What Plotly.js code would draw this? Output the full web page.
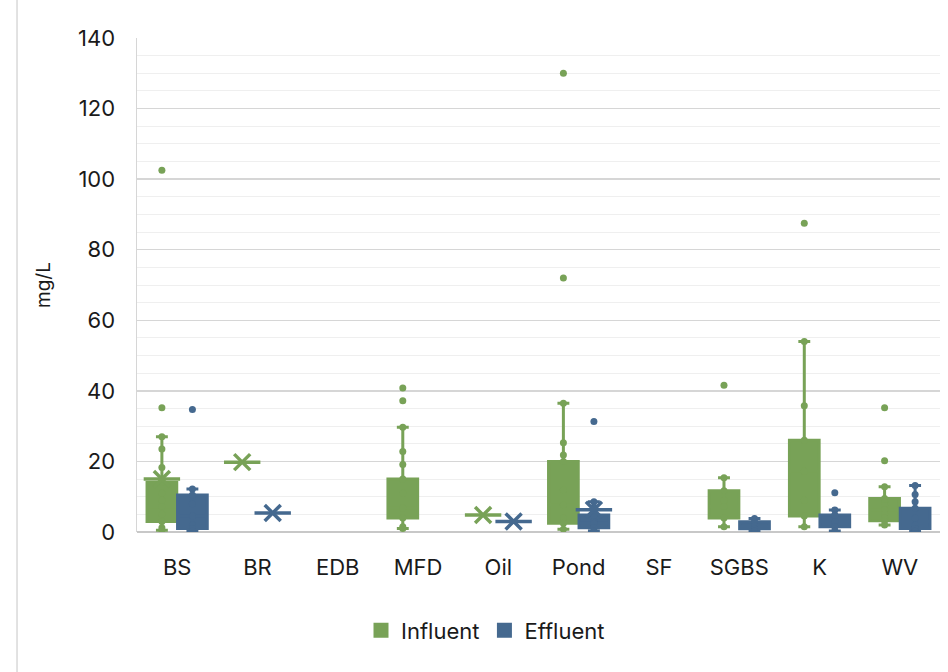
<!DOCTYPE html>
<html>
<head>
<meta charset="utf-8">
<script src="https://cdn.plot.ly/plotly-3.0.1.min.js"></script>
<style>html,body{margin:0;padding:0;background:#fff;}#chart{width:948px;height:672px;}</style>
</head>
<body>
<div id="chart"></div>
<script>
// ---- Data ----
var categories = ["BS", "BR", "EDB", "MFD", "Oil", "Pond", "SF", "SGBS", "K", "WV"];

// Influent box statistics (null = no box)
var infQ1     = [3,    null, null, 4,    null, 2.5,  null, 4,    4.5,  3.2];
var infMedian = [7,    null, null, 6.8,  null, 7.7,  null, 7.2,  17.2, 6.2];
var infQ3     = [14,   null, null, 15,   null, 20,   null, 11.7, 26,   9.5];
var infLower  = [0.5,  null, null, 1,    null, 0.8,  null, 1.5,  1.5,  2];
var infUpper  = [27,   null, null, 29.7, null, 36.5, null, 15.4, 54,   12.8];
var infMean   = [15,   19.8, null, null, 4.8,  null, null, null, null, null];
var infPoints = [
  [102.5, 35.2, 27, 23.5, 18.3, 14, 11, 9, 7.2, 5, 3, 1.2, 0.5],
  [],
  [],
  [40.8, 37.2, 29.7, 22.8, 19.1, 15, 11, 6.8, 4, 1.5, 1],
  [],
  [130, 72, 36.5, 25.3, 21.8, 20, 12, 7.7, 4, 2.5, 0.8],
  [],
  [41.6, 15.4, 11.7, 9, 7.2, 4, 1.5],
  [87.5, 54, 35.8, 26, 17.2, 9, 4.5, 1.5],
  [35.2, 20.2, 12.8, 9.5, 8.5, 7.5, 6.2, 5, 4, 3.2, 2]
];

// Effluent box statistics
var effQ1     = [1,    null, null, null, null, 1.2,  null, 0.9,  1.5,  1];
var effMedian = [4.5,  null, null, null, null, 2.5,  null, 1.8,  3,    3];
var effQ3     = [10.5, null, null, null, null, 4.8,  null, 2.9,  4.8,  6.7];
var effLower  = [0.2,  null, null, null, null, 0.3,  null, 0.2,  0.3,  0.2];
var effUpper  = [12.2, null, null, null, null, 8.6,  null, 3.8,  6.2,  13.2];
var effMean   = [null, 5.4,  null, null, 3,    6.3,  null, null, null, null];
var effPoints = [
  [34.7, 12.2, 10.5, 8, 4.5, 2, 1, 0.2],
  [],
  [],
  [],
  [],
  [31.3, 8.6, 7, 5.5, 4.8, 3, 2.5, 1.2, 0.3],
  [],
  [3.8, 2.9, 1.8, 0.9, 0.2],
  [11.1, 6.2, 4.8, 3, 1.5, 0.3],
  [13.2, 10.6, 8.6, 6.7, 4, 2, 1, 0.2]
];

var yTicks = [0, 20, 40, 60, 80, 100, 120, 140];

// ---- Style ----
var GREEN = "#78A257";
var BLUE = "#45698F";
var FONT = "Inter, 'Open Sans', sans-serif";
var TXT = "#1a1a1a";
var OFF = 0.19, BOXW = 0.37;

function boxTrace(name, color, off, q1, med, q3, lo, hi, showLegend) {
  var t = {type: "box", name: name, legendgroup: name, showlegend: showLegend,
    x: [], q1: [], median: [], q3: [], lowerfence: [], upperfence: [],
    width: BOXW, whiskerwidth: 0.4, boxpoints: false,
    fillcolor: color, line: {color: color, width: 3}, hoverinfo: "skip"};
  for (var i = 0; i < categories.length; i++) {
    if (q1[i] === null) continue;
    t.x.push(i + off); t.q1.push(q1[i]); t.median.push(med[i]); t.q3.push(q3[i]);
    t.lowerfence.push(lo[i]); t.upperfence.push(hi[i]);
  }
  return t;
}
function pointTrace(name, color, off, pts) {
  var xs = [], ys = [];
  for (var i = 0; i < pts.length; i++) {
    for (var j = 0; j < pts[i].length; j++) { xs.push(i + off); ys.push(pts[i][j]); }
  }
  return {type: "scatter", mode: "markers", x: xs, y: ys, showlegend: false, legendgroup: name,
    marker: {color: color, size: 7}, hoverinfo: "y"};
}
function meanTraces(name, color, off, means) {
  var xs = [], ys = [];
  for (var i = 0; i < means.length; i++) {
    if (means[i] === null) continue;
    xs.push(i + off); ys.push(means[i]);
  }
  return [
    {type: "scatter", mode: "markers", x: xs, y: ys, showlegend: false, legendgroup: name,
      marker: {symbol: "x-thin-open", color: color, size: 16, line: {color: color, width: 3.5}}, hoverinfo: "y"},
    {type: "scatter", mode: "markers", x: xs, y: ys, showlegend: false, legendgroup: name,
      marker: {symbol: "line-ew-open", color: color, size: 26, line: {color: color, width: 3.5}}, hoverinfo: "skip"}
  ];
}

var data = [
  boxTrace("Influent", GREEN, -OFF, infQ1, infMedian, infQ3, infLower, infUpper, true),
  boxTrace("Effluent", BLUE, OFF, effQ1, effMedian, effQ3, effLower, effUpper, true),
  pointTrace("Influent", GREEN, -OFF, infPoints),
  pointTrace("Effluent", BLUE, OFF, effPoints)
].concat(meanTraces("Influent", GREEN, -OFF, infMean), meanTraces("Effluent", BLUE, OFF, effMean));

var catIdx = categories.map(function (c, i) { return i; });

var layout = {
  width: 948, height: 672,
  margin: {l: 137, r: 8, t: 38, b: 140},
  paper_bgcolor: "#ffffff", plot_bgcolor: "#ffffff",
  font: {family: FONT, size: 22, color: TXT},
  boxmode: "overlay",
  showlegend: true,
  legend: {orientation: "h", x: 0.434, xanchor: "center", y: -0.157, yanchor: "top",
    font: {family: FONT, size: 22, color: TXT}, itemwidth: 30, traceorder: "normal"},
  xaxis: {range: [-0.5, 9.5], tickmode: "array", tickvals: catIdx, ticktext: categories,
    showgrid: false, zeroline: false, showline: false, ticks: "",
    tickfont: {family: FONT, size: 22, color: TXT}, ticklabelstandoff: 20, fixedrange: true},
  yaxis: {range: [0, 140], tickmode: "array", tickvals: yTicks,
    showgrid: true, gridcolor: "#d6d6d6", gridwidth: 1.5,
    minor: {dtick: 5, tick0: 0, showgrid: true, gridcolor: "#efefef", gridwidth: 1, ticks: ""},
    zeroline: true, zerolinecolor: "#c8c8c8", zerolinewidth: 2,
    showline: true, linecolor: "#d6d6d6", linewidth: 1.5, ticks: "",
    tickfont: {family: FONT, size: 22, color: TXT}, ticklabelstandoff: 16,
    title: {text: "mg/L", font: {family: FONT, size: 19, color: TXT}, standoff: 22},
    fixedrange: true},
  shapes: [
    {type: "line", xref: "paper", yref: "paper", x0: -0.1494, x1: -0.1494, y0: 1.08, y1: -0.29,
     line: {color: "#d9d9d9", width: 1.5}}
  ]
};

Plotly.newPlot("chart", data, layout, {displayModeBar: false, staticPlot: true});
</script>
</body>
</html>
